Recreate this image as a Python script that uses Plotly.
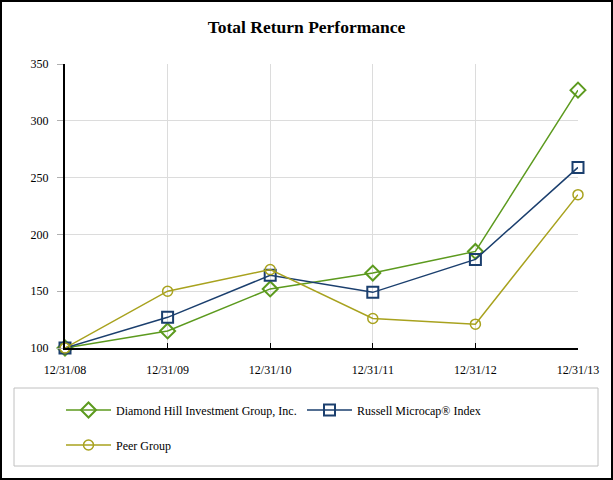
import plotly.graph_objects as go

categories = ["12/31/08", "12/31/09", "12/31/10", "12/31/11", "12/31/12", "12/31/13"]
diamond_hill = [100, 115, 152, 166, 185, 327]
russell = [100, 127, 164, 149, 178, 259]
peer_group = [100, 150, 169, 126, 121, 235]
y_ticks = [100, 150, 200, 250, 300, 350]

W, H = 613, 480
L, R, T, B = 65, 35, 64, 132
PW, PH = W - L - R, H - T - B

def px(x):
    return (x - L) / PW

def py(y):
    return (H - B - y) / PH

font = "Liberation Serif"

fig = go.Figure()
fig.add_trace(go.Scatter(
    x=categories, y=diamond_hill, name="Diamond Hill Investment Group, Inc.",
    mode="lines+markers", line=dict(color="#5c9a1e", width=1.5),
    marker=dict(symbol="diamond-open", size=11.5, color="#5c9a1e", line=dict(width=2)),
    cliponaxis=False, legend="legend"))
fig.add_trace(go.Scatter(
    x=categories, y=russell, name="Russell Microcap® Index",
    mode="lines+markers", line=dict(color="#1b3f6e", width=1.5),
    marker=dict(symbol="square-open", size=11, color="#1b3f6e", line=dict(width=2)),
    cliponaxis=False, legend="legend2"))
fig.add_trace(go.Scatter(
    x=categories, y=peer_group, name="Peer Group",
    mode="lines+markers", line=dict(color="#a8a21e", width=1.5),
    marker=dict(symbol="circle-open", size=10, color="#a8a21e", line=dict(width=1.5)),
    cliponaxis=False, legend="legend3"))

leg_common = dict(xanchor="left", yanchor="middle", itemwidth=45,
                  bgcolor="rgba(0,0,0,0)", font=dict(family=font, size=12, color="black"))

fig.update_layout(
    width=W, height=H,
    margin=dict(l=L, r=R, t=T, b=B),
    paper_bgcolor="white", plot_bgcolor="white",
    font=dict(family=font, size=12, color="black"),
    title=dict(text="<b>Total Return Performance</b>", x=0.5, xanchor="center",
               y=1 - 27 / H, yanchor="middle", font=dict(size=17.5, family=font)),
    xaxis=dict(type="category", range=[0, 5], showgrid=True, gridcolor="#dcdcdc",
               showline=True, linecolor="black", linewidth=2, ticks="inside",
               ticklen=5, tickcolor="black", ticklabelstandoff=10, zeroline=False),
    yaxis=dict(range=[100, 350], tickvals=y_ticks, showgrid=True, gridcolor="#dcdcdc",
               showline=True, linecolor="black", linewidth=2, ticks="outside",
               ticklen=6, tickcolor="#b0b0b0", ticklabelstandoff=6, zeroline=False),
    showlegend=True,
    legend=dict(x=px(61), y=py(410), **leg_common),
    legend2=dict(x=px(302), y=py(410), **leg_common),
    legend3=dict(x=px(61), y=py(445), **leg_common),
    shapes=[
        dict(type="rect", xref="paper", yref="paper",
             x0=px(14), x1=px(598), y0=py(466), y1=py(388),
             line=dict(color="#c0c0c0", width=1), layer="below"),
        dict(type="rect", xref="paper", yref="paper",
             x0=px(1), x1=px(W - 1), y0=py(H - 1), y1=py(1),
             line=dict(color="black", width=2), layer="below"),
    ],
)

fig.write_html("out.html", config={"displayModeBar": False},
               post_script="document.body.style.margin='0';document.body.style.overflow='hidden';")
